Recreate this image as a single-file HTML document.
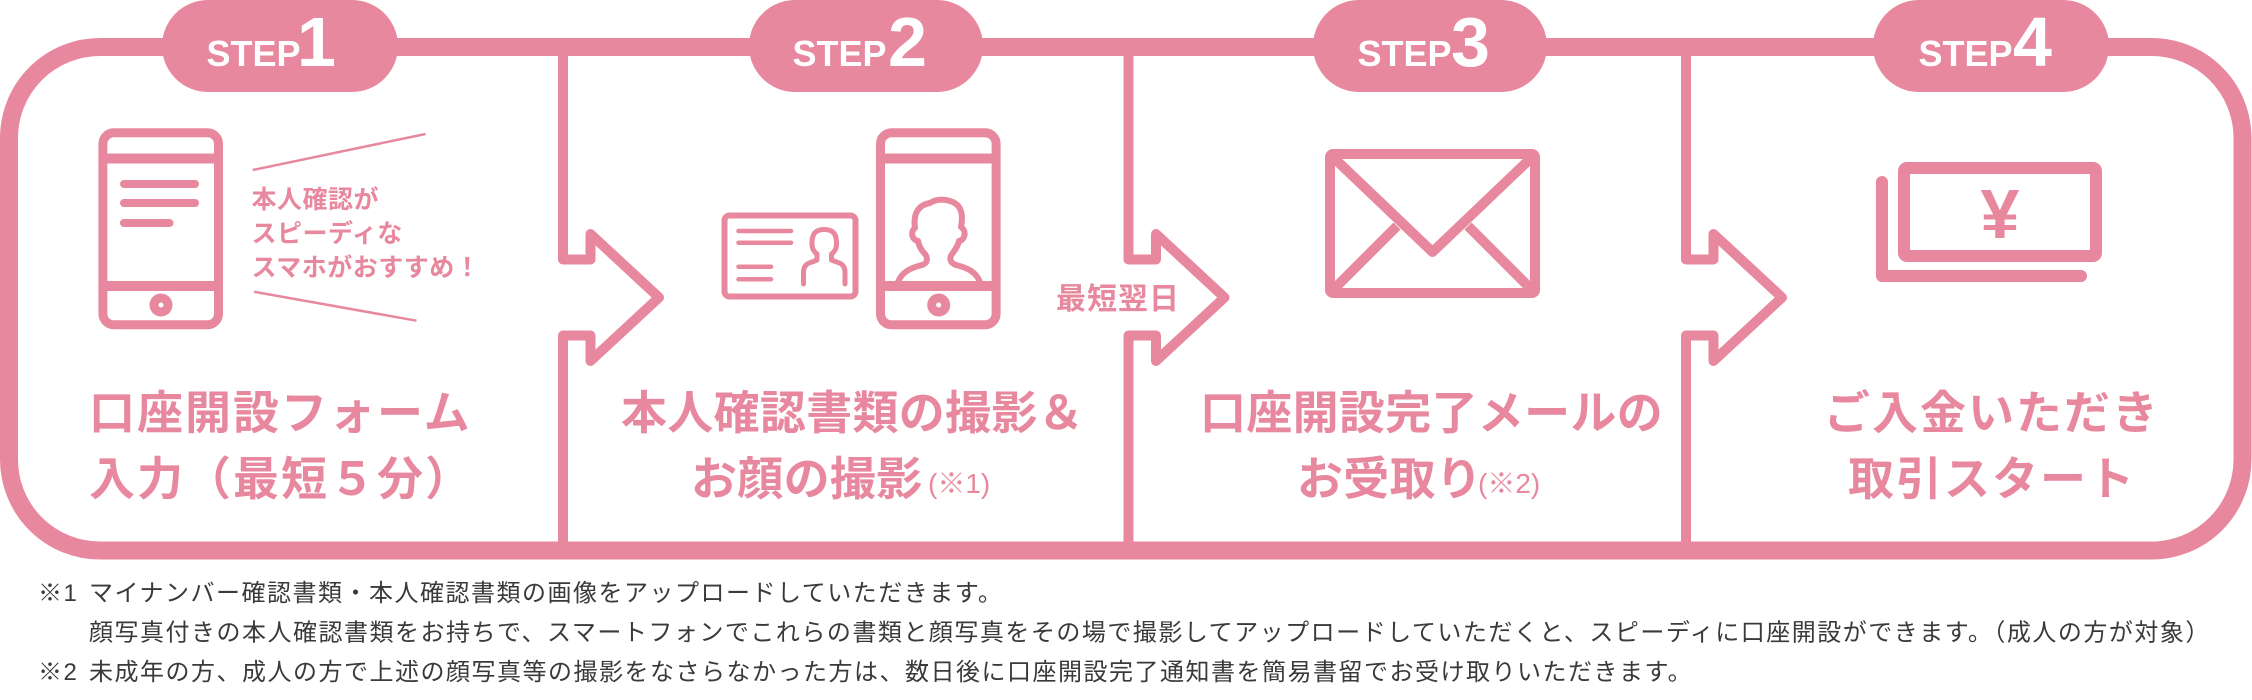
<!DOCTYPE html>
<html lang="ja">
<head>
<meta charset="utf-8">
<style>
  html,body{margin:0;padding:0;background:#fff;}
  body{width:2252px;height:700px;overflow:hidden;}
  svg{display:block;}
  .jp{font-family:"Liberation Sans","Noto Sans CJK JP",sans-serif;}
  .big{font-size:46px;font-weight:bold;fill:#e8889e;}
  .step{font-family:"Liberation Sans",sans-serif;font-weight:bold;fill:#fff;}
</style>
</head>
<body>
<svg width="2252" height="700" viewBox="0 0 2252 700" xmlns="http://www.w3.org/2000/svg">
  <!-- outer frame -->
  <rect x="9" y="47" width="2233.5" height="503.5" rx="91" ry="91" fill="none" stroke="#e8889e" stroke-width="18"/>

  <!-- dividers + arrows -->
  <g fill="none" stroke="#e8889e" stroke-width="10" stroke-linejoin="round">
    <path d="M563 47 V259.5 H590.5 V234 L659 297.5 L590.5 361 V335.5 H563 V550"/>
    <path d="M1128.5 47 V259.5 H1156 V234 L1224.5 297.5 L1156 361 V335.5 H1128.5 V550"/>
    <path d="M1686 47 V259.5 H1713.5 V234 L1782 297.5 L1713.5 361 V335.5 H1686 V550"/>
  </g>

  <!-- step pills -->
  <g fill="#e8889e">
    <rect x="162" y="0" width="236" height="92" rx="46"/>
    <rect x="749" y="0" width="234" height="92" rx="46"/>
    <rect x="1313" y="0" width="234" height="92" rx="46"/>
    <rect x="1873" y="0" width="236" height="92" rx="46"/>
  </g>
  <g class="step">
    <text x="206.5" y="66" font-size="36">STEP</text>
    <text x="297" y="66" font-size="70">1</text>
    <text x="792.5" y="66" font-size="36">STEP</text>
    <text x="888" y="66" font-size="70">2</text>
    <text x="1357.5" y="66" font-size="36">STEP</text>
    <text x="1451" y="66" font-size="70">3</text>
    <text x="1918.5" y="66" font-size="36">STEP</text>
    <text x="2013" y="66" font-size="70">4</text>
  </g>

  <!-- STEP1 icon: phone -->
  <g fill="none" stroke="#e8889e">
    <rect x="102.9" y="132.8" width="115.6" height="192" rx="11" stroke-width="9"/>
    <line x1="102.9" y1="158.5" x2="218.5" y2="158.5" stroke-width="10"/>
    <line x1="102.9" y1="286" x2="218.5" y2="286" stroke-width="10"/>
    <g stroke-width="8" stroke-linecap="round">
      <line x1="124" y1="184" x2="195" y2="184"/>
      <line x1="124" y1="203" x2="195" y2="203"/>
      <line x1="124" y1="223" x2="169.5" y2="223"/>
    </g>
    <line x1="252.7" y1="170" x2="425.5" y2="134" stroke-width="2.5"/>
    <line x1="254" y1="291.7" x2="416.5" y2="320.7" stroke-width="2.5"/>
  </g>
  <circle cx="161" cy="305" r="11.5" fill="#e8889e"/>
  <circle cx="161" cy="305" r="2.5" fill="#fff"/>

  <g class="jp" font-size="25" font-weight="bold" fill="#e8889e" letter-spacing="0.5">
    <text x="251.5" y="208">本人確認が</text>
    <text x="251.5" y="242">スピーディな</text>
    <text x="251.5" y="276">スマホがおすすめ！</text>
  </g>

  <!-- STEP2 icons -->
  <g fill="none" stroke="#e8889e" stroke-linecap="round" stroke-linejoin="round">
    <rect x="724.5" y="215.5" width="131" height="81" rx="5" stroke-width="6"/>
    <g stroke-width="4.5">
      <line x1="738.5" y1="231" x2="791" y2="231"/>
      <line x1="738.5" y1="242.7" x2="791" y2="242.7"/>
      <line x1="738.5" y1="266.7" x2="771" y2="266.7"/>
      <line x1="738.5" y1="279.3" x2="771" y2="279.3"/>
    </g>
    <path stroke-width="5" d="M803.5 284 V272 Q803.5 264 812 262 L817 260 V254 C811 250 811.5 243 812.5 238 C813.5 232 818 229.5 824.3 229.5 C830.5 229.5 835 232 836 238 C837 243 837.5 250 831.5 254 V260 L836.5 262 Q845 264 845 272 V284"/>
    <!-- phone 2 -->
    <rect x="880.5" y="132.8" width="115.6" height="192" rx="11" stroke-width="9" stroke-linecap="butt"/>
    <line x1="880.5" y1="158.5" x2="996.1" y2="158.5" stroke-width="10" stroke-linecap="butt"/>
    <line x1="880.5" y1="286" x2="996.1" y2="286" stroke-width="10" stroke-linecap="butt"/>
    <path stroke-width="6" d="M898 282 C902 272 910 268 922 265 C928 263 928 258 925 254 C921 250 919 246 918 241 C912 240 910 232 915 228 C913 214 918 205 930 203 C936 199 944 199 950 201 C960 204 964 212 961 227 C967 231 965 240 959 241 C958 246 955 250 952 254 C949 258 950 263 956 265 C968 268 976 272 980 282"/>
  </g>
  <circle cx="938.7" cy="305" r="11.5" fill="#e8889e"/>
  <circle cx="938.7" cy="305" r="2.5" fill="#fff"/>

  <!-- STEP3 icon: envelope -->
  <g fill="none" stroke="#e8889e" stroke-width="10" stroke-linejoin="round">
    <rect x="1330" y="154" width="205" height="139" rx="3"/>
    <polyline points="1335,159 1432.5,252 1530,159"/>
    <line x1="1335" y1="288" x2="1397" y2="226"/>
    <line x1="1530" y1="288" x2="1468" y2="226"/>
  </g>

  <!-- STEP4 icon: bill -->
  <g fill="none" stroke="#e8889e" stroke-width="12" stroke-linejoin="round">
    <rect x="1904" y="168" width="192" height="88" rx="3"/>
    <path d="M1882 182 V276 H2081" stroke-linecap="round"/>
  </g>
  <text x="2000" y="238" text-anchor="middle" font-family="Liberation Sans, sans-serif" font-weight="bold" font-size="70" fill="#e8889e">¥</text>

  <!-- 最短翌日 -->
  <text class="jp" x="1056" y="309" font-size="30" font-weight="bold" fill="#e8889e" letter-spacing="1">最短翌日</text>

  <!-- main labels -->
  <g class="jp big">
    <text x="89" y="429" letter-spacing="2">口座開設フォーム</text>
    <text x="89" y="495" letter-spacing="2">入力（最短５分）</text>

    <text x="621" y="429" letter-spacing="0.3">本人確認書類の撮影＆</text>
    <text x="691" y="495" letter-spacing="0.3">お顔の撮影</text>

    <text x="1200" y="429" letter-spacing="0.3">口座開設完了メールの</text>
    <text x="1297" y="495" letter-spacing="0.3">お受取り</text>

    <text x="1824" y="429" letter-spacing="2">ご入金いただき</text>
    <text x="1848" y="495" letter-spacing="2">取引スタート</text>
  </g>
  <g class="jp" font-size="28" fill="#e8889e">
    <text x="928" y="493">(※1)</text>
    <text x="1478" y="493">(※2)</text>
  </g>

  <!-- footnotes -->
  <g class="jp" font-size="24" fill="#3a3a3a" letter-spacing="1.5">
    <text x="38" y="601">※1</text>
    <text x="89" y="601">マイナンバー確認書類・本人確認書類の画像をアップロードしていただきます。</text>
    <text x="89" y="640.5">顔写真付きの本人確認書類をお持ちで、スマートフォンでこれらの書類と顔写真をその場で撮影してアップロードしていただくと、スピーディに口座開設ができます。（成人の方が対象）</text>
    <text x="38" y="680">※2</text>
    <text x="89" y="680">未成年の方、成人の方で上述の顔写真等の撮影をなさらなかった方は、数日後に口座開設完了通知書を簡易書留でお受け取りいただきます。</text>
  </g>
</svg>
</body>
</html>
